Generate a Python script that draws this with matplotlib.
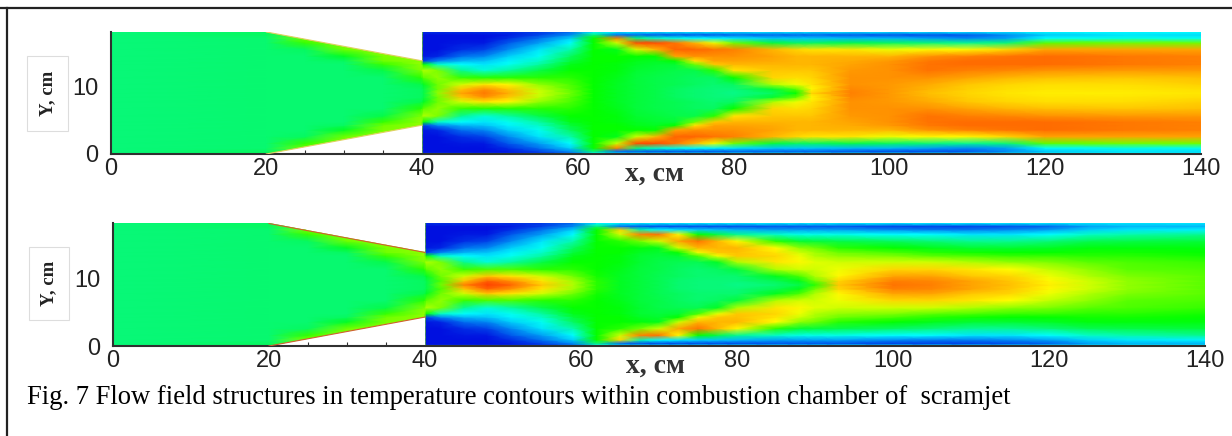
import matplotlib
matplotlib.use('Agg')
import matplotlib.pyplot as plt
from matplotlib.colors import LinearSegmentedColormap
from matplotlib.lines import Line2D
from matplotlib.patches import Polygon, Rectangle
import numpy as np

W, H = 1232, 436
plt.rcParams['font.family'] = ['Liberation Sans', 'DejaVu Sans']

x_ticks = [0, 20, 40, 60, 80, 100, 120, 140]
y_ticks = [0, 10]
x_minor = [25, 30, 35]
caption = 'Fig. 7 Flow field structures in temperature contours within combustion chamber of  scramjet'

# duct outline, lower wall (upper wall is the mirror image)
wall_x = [0, 20, 40, 40, 140]
wall_y = [0, 0, 4.3, 0, 0]
y_top = 18.2

# half profile, wall to axis
y_half = [0, .4, .9, 1.6, 2.6, 3.6, 4.3, 4.8, 5.7, 6.8, 7.8, 8.5, 9.1]

# stations along the duct and temperature level (0 blue ... 1 red) at each y_half
x_1 = [0, 20, 25, 30, 35, 39.9, 40.2, 42, 45, 48, 51, 55, 59, 62, 65, 67.5, 70, 72.5, 75, 77.5, 80, 85, 88, 90, 95, 100, 105, 110, 115, 120, 130, 140]
field_1 = [
    [.40, .40, .40, .40, .40, .40, .40, .40, .40, .40, .40, .40, .40],
    [.42, .42, .41, .41, .41, .41, .41, .41, .41, .41, .41, .41, .41],
    [.56, .56, .56, .53, .42, .41, .41, .41, .41, .41, .41, .41, .41],
    [.57, .57, .57, .57, .56, .47, .42, .41, .41, .41, .41, .41, .41],
    [.58, .58, .58, .58, .58, .57, .56, .53, .44, .41, .41, .41, .41],
    [.58, .58, .58, .58, .58, .58, .58, .58, .57, .52, .44, .42, .42],
    [.12, .09, .09, .09, .09, .10, .14, .50, .60, .55, .47, .44, .44],
    [.12, .09, .09, .09, .09, .11, .20, .34, .57, .58, .56, .56, .58],
    [.12, .09, .09, .10, .12, .18, .24, .30, .38, .53, .62, .72, .76],
    [.12, .09, .09, .10, .14, .20, .25, .28, .33, .52, .68, .78, .81],
    [.12, .10, .12, .16, .20, .26, .29, .31, .37, .52, .66, .72, .75],
    [.13, .14, .18, .22, .28, .31, .34, .37, .44, .52, .58, .61, .62],
    [.18, .20, .26, .30, .36, .42, .45, .48, .50, .52, .54, .55, .56],
    [.30, .40, .50, .50, .50, .50, .50, .50, .50, .50, .50, .50, .50],
    [.28, .18, .80, .62, .48, .50, .50, .49, .49, .48, .47, .47, .47],
    [.28, .17, .40, .88, .62, .50, .48, .47, .46, .45, .45, .45, .45],
    [.28, .16, .34, .88, .74, .50, .47, .46, .45, .44, .44, .44, .44],
    [.28, .16, .32, .82, .84, .76, .50, .46, .44, .43, .43, .42, .42],
    [.28, .16, .30, .74, .84, .78, .68, .56, .44, .42, .42, .41, .41],
    [.28, .16, .29, .64, .82, .78, .76, .72, .52, .42, .41, .40, .40],
    [.28, .17, .28, .56, .80, .78, .76, .74, .68, .50, .42, .40, .39],
    [.28, .17, .25, .45, .74, .76, .75, .74, .72, .70, .60, .46, .42],
    [.28, .17, .25, .42, .70, .74, .74, .74, .72, .69, .64, .55, .50],
    [.28, .17, .25, .42, .68, .74, .74, .74, .72, .70, .68, .66, .70],
    [.28, .16, .24, .44, .68, .74, .75, .76, .77, .78, .78, .79, .80],
    [.28, .15, .24, .42, .64, .74, .77, .78, .78, .78, .77, .77, .77],
    [.28, .15, .22, .40, .66, .78, .81, .82, .82, .78, .75, .74, .73],
    [.28, .16, .20, .38, .66, .80, .83, .83, .80, .76, .72, .71, .70],
    [.28, .20, .22, .40, .70, .82, .83, .83, .79, .74, .70, .69, .68],
    [.30, .25, .30, .55, .76, .83, .83, .83, .78, .73, .69, .68, .67],
    [.30, .28, .32, .56, .76, .81, .81, .81, .77, .72, .69, .68, .67],
    [.30, .27, .31, .56, .76, .80, .80, .80, .77, .73, .71, .69, .68],
]

x_2 = [0, 20, 25, 30, 35, 39.9, 40.2, 42, 45, 48, 51, 55, 59, 62, 65, 67.5, 70, 72.5, 75, 77.5, 80, 85, 88, 90, 93, 100, 105, 110, 115, 120, 125, 130, 140]
field_2 = [
    [.40, .40, .40, .40, .40, .40, .40, .40, .40, .40, .40, .40, .40],
    [.42, .42, .41, .41, .41, .41, .41, .41, .41, .41, .41, .41, .41],
    [.57, .57, .57, .53, .42, .41, .41, .41, .41, .41, .41, .41, .41],
    [.58, .58, .58, .58, .56, .47, .42, .41, .41, .41, .41, .41, .41],
    [.58, .58, .58, .58, .58, .57, .56, .53, .44, .41, .41, .41, .41],
    [.58, .58, .58, .58, .58, .58, .58, .58, .57, .52, .44, .42, .42],
    [.12, .09, .09, .09, .09, .10, .14, .50, .60, .55, .47, .44, .44],
    [.12, .09, .09, .09, .09, .11, .20, .34, .57, .58, .56, .54, .56],
    [.12, .09, .09, .10, .12, .18, .24, .30, .38, .53, .62, .72, .80],
    [.12, .09, .09, .10, .14, .20, .25, .28, .33, .54, .72, .84, .90],
    [.12, .10, .12, .16, .20, .26, .29, .31, .37, .54, .68, .78, .84],
    [.13, .14, .18, .22, .28, .31, .34, .37, .44, .52, .62, .68, .72],
    [.18, .20, .26, .30, .36, .42, .45, .48, .50, .52, .56, .59, .60],
    [.30, .40, .50, .50, .50, .50, .50, .50, .50, .50, .51, .52, .52],
    [.28, .18, .70, .62, .52, .50, .50, .49, .49, .48, .47, .47, .47],
    [.28, .16, .36, .80, .56, .49, .47, .46, .46, .45, .45, .45, .45],
    [.28, .15, .30, .82, .62, .48, .46, .45, .44, .44, .43, .43, .43],
    [.28, .15, .28, .66, .76, .62, .50, .46, .43, .42, .42, .41, .41],
    [.28, .15, .26, .50, .82, .74, .64, .54, .43, .41, .41, .40, .40],
    [.28, .15, .25, .44, .74, .74, .72, .64, .47, .42, .41, .40, .40],
    [.28, .15, .24, .38, .66, .74, .73, .72, .60, .45, .41, .40, .39],
    [.28, .16, .22, .34, .52, .65, .68, .70, .68, .60, .48, .43, .41],
    [.28, .16, .22, .32, .46, .58, .62, .64, .66, .62, .54, .48, .44],
    [.28, .16, .22, .32, .45, .56, .59, .60, .63, .62, .60, .56, .52],
    [.28, .16, .22, .32, .44, .52, .56, .58, .62, .64, .66, .70, .72],
    [.28, .14, .20, .30, .42, .50, .54, .57, .62, .70, .76, .80, .82],
    [.28, .14, .19, .30, .40, .48, .52, .55, .62, .70, .76, .79, .80],
    [.28, .14, .19, .28, .38, .46, .51, .54, .60, .68, .72, .76, .76],
    [.28, .15, .20, .28, .38, .46, .50, .53, .58, .65, .70, .72, .73],
    [.28, .17, .22, .30, .40, .47, .50, .53, .57, .61, .64, .66, .67],
    [.28, .22, .26, .34, .43, .49, .51, .52, .55, .58, .60, .62, .62],
    [.28, .24, .28, .36, .44, .49, .51, .52, .54, .55, .57, .58, .58],
    [.28, .24, .29, .38, .45, .49, .50, .51, .53, .54, .55, .55, .55],
]

tec = LinearSegmentedColormap.from_list('tec', [
    (0, '#0000c0'), (.09, '#0010e0'), (.18, '#0070f0'), (.3, '#00ffff'), (.4, '#08f878'),
    (.5, '#00ff00'), (.57, '#80ff00'), (.65, '#ffff00'), (.73, '#ffc000'), (.8, '#ff8000'),
    (.9, '#ff4000'), (1, '#ff0000')])


def panel(fig, px, x, field, wall_col):
    left, right, top, bottom = px
    ax = fig.add_axes([left / W, 1 - bottom / H, (right - left) / W, (bottom - top) / H])
    half = np.array(field)
    vals = np.hstack([half, half[:, ::-1]])
    ys = list(y_half) + [y_top - v for v in y_half[::-1]]
    mesh = ax.pcolormesh(x, ys, vals.T, cmap=tec, vmin=0, vmax=1, shading='gouraud')
    outline = list(zip(wall_x, wall_y)) + [(a, y_top - b) for a, b in zip(wall_x[::-1], wall_y[::-1])]
    clip = Polygon(outline, closed=True, transform=ax.transData)
    mesh.set_clip_path(clip)
    # thin hot layer on the converging walls
    ax.plot(wall_x[1:3], wall_y[1:3], color=wall_col, lw=.8, zorder=3)
    ax.plot(wall_x[1:3], [y_top - v for v in wall_y[1:3]], color=wall_col, lw=.8, zorder=3)
    ax.set_xlim(0, 140)
    ax.set_ylim(0, y_top)
    for s in ['top', 'right']:
        ax.spines[s].set_visible(False)
    for s in ['left', 'bottom']:
        ax.spines[s].set_color('#303030')
        ax.spines[s].set_linewidth(1.5)
    ax.patch.set_alpha(0)
    ax.set_xticks(x_ticks)
    ax.set_yticks(y_ticks)
    ax.set_xticks(x_minor, minor=True)
    ax.tick_params(axis='y', which='major', length=0, labelsize=17, labelcolor='#222222', pad=9)
    ax.tick_params(axis='x', which='major', length=0, labelsize=17, labelcolor='#222222', pad=3)
    ax.tick_params(axis='x', which='minor', direction='in', length=3, width=.8, color='#303030')
    return ax


fig = plt.figure(figsize=(W / 100, H / 100), dpi=100, facecolor='white')
panel(fig, (110.5, 1201, 32, 154), x_1, field_1, '#e0d060')
panel(fig, (113, 1205, 223.5, 346), x_2, field_2, '#d06030')

# page frame, only top and left are there
fig.add_artist(Line2D([0, 1], [1 - 8.5 / H] * 2, color='#222222', lw=1.6))
fig.add_artist(Line2D([6.5 / W] * 2, [0, 1 - 8.5 / H], color='#222222', lw=1.6))

for x0, y0, x1, y1 in [(27, 56, 68, 131), (29, 247, 69, 320)]:
    fig.add_artist(Rectangle((x0 / W, 1 - y1 / H), (x1 - x0) / W, (y1 - y0) / H, transform=fig.transFigure,
                             facecolor='white', edgecolor='#dddddd', lw=.8))
    fig.text((x0 + x1) / 2 / W, 1 - (y0 + y1) / 2 / H, 'Y, cm', rotation=90, ha='center', va='center',
             family=['Liberation Serif'], weight='bold', fontsize=13.5, color='#222222')

for xc, yc in [(654, 174), (656, 366)]:
    fig.text(xc / W, 1 - yc / H, 'x, см', ha='center', va='center', family=['Liberation Serif'],
             weight='bold', fontsize=20, color='#333333')

fig.text(27 / W, 1 - 397 / H, caption, ha='left', va='center', family=['Liberation Serif'], fontsize=19.2, color='black')

fig.savefig('out.png', dpi=100)
